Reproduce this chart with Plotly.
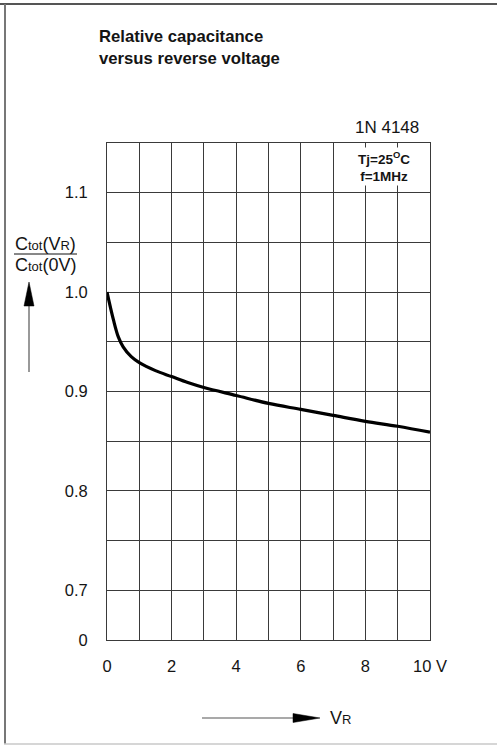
import plotly.graph_objects as go

# ---- data ----
vr = [0, 0.2, 0.35, 0.5, 0.75, 1.0, 1.5, 2, 2.5, 3, 4, 5, 6, 7, 8, 9, 10]
c_rel = [1.0, 0.972, 0.955, 0.945, 0.935, 0.929, 0.921, 0.915, 0.909, 0.904,
         0.896, 0.888, 0.882, 0.876, 0.870, 0.865, 0.859]

x_ticks = [0, 2, 4, 6, 8, 10]
x_labels = ["0", "2", "4", "6", "8", "10 V"]
y_ticks = [0.65, 0.70, 0.80, 0.90, 1.00, 1.10]
y_labels = ["0", "0.7", "0.8", "0.9", "1.0", "1.1"]

W, H = 497, 745
L, R, T, B = 107, 67, 143, 105
PW, PH = W - L - R, H - T - B

def px(x):
    return (x - L) / PW

def py(y):
    return (H - B - y) / PH

FONT = "Liberation Sans, Arial, sans-serif"
GRID = "#3a3a3a"
TXT = "#141414"

fig = go.Figure()
fig.add_trace(go.Scatter(x=vr, y=c_rel, mode="lines",
                         line=dict(color="black", width=3.2, shape="spline"),
                         hoverinfo="skip", showlegend=False))

fig.update_layout(
    width=W, height=H,
    margin=dict(l=L, r=R, t=T, b=B),
    paper_bgcolor="white", plot_bgcolor="white",
    font=dict(family=FONT, color=TXT, size=16),
    showlegend=False,
    xaxis=dict(range=[0, 10], tickmode="array", tickvals=x_ticks, ticktext=x_labels,
               showgrid=True, gridcolor=GRID, gridwidth=1, zeroline=False,
               minor=dict(tick0=0, dtick=1, showgrid=True, gridcolor=GRID, gridwidth=1, ticks=""),
               showline=True, linecolor=GRID, linewidth=1, mirror=True,
               ticks="", ticklabelstandoff=11, tickfont=dict(size=16.5, color=TXT)),
    yaxis=dict(range=[0.65, 1.15], tickmode="array", tickvals=y_ticks, ticktext=y_labels,
               showgrid=True, gridcolor=GRID, gridwidth=1, zeroline=False,
               minor=dict(tick0=0.65, dtick=0.05, showgrid=True, gridcolor=GRID, gridwidth=1, ticks=""),
               showline=True, linecolor=GRID, linewidth=1, mirror=True,
               ticks="", ticklabelstandoff=15, tickfont=dict(size=16.5, color=TXT)),
)

ann = []
ann.append(dict(x=px(97), y=py(36), xref="paper", yref="paper", xanchor="left", yanchor="middle",
                text="<b>Relative capacitance</b>", showarrow=False,
                font=dict(size=16.7, color=TXT, family=FONT)))
ann.append(dict(x=px(97), y=py(58), xref="paper", yref="paper", xanchor="left", yanchor="middle",
                text="<b>versus reverse voltage</b>", showarrow=False,
                font=dict(size=16.7, color=TXT, family=FONT)))
ann.append(dict(x=px(421), y=py(128), xref="paper", yref="paper", xanchor="right", yanchor="middle",
                text="1N 4148", showarrow=False, font=dict(size=17, color=TXT, family=FONT)))
ann.append(dict(x=px(384), y=py(166), xref="paper", yref="paper", xanchor="center", yanchor="middle",
                text="<b>Tj=25<sup>O</sup>C</b><br><b>f=1MHz</b>", showarrow=False,
                bgcolor="white", borderpad=1, align="center",
                font=dict(size=13.5, color=TXT, family=FONT)))
small = "<span style='font-size:13px'>"
ann.append(dict(x=px(45.5), y=py(244), xref="paper", yref="paper", xanchor="center", yanchor="middle",
                text="C" + small + "tot</span>(V" + small + "R</span>)", showarrow=False,
                font=dict(size=18, color=TXT, family=FONT)))
ann.append(dict(x=px(45.5), y=py(265), xref="paper", yref="paper", xanchor="center", yanchor="middle",
                text="C" + small + "tot</span>(0V)", showarrow=False,
                font=dict(size=18, color=TXT, family=FONT)))
ann.append(dict(x=px(328), y=py(718), xref="paper", yref="paper", xanchor="left", yanchor="middle",
                text="V" + small + "R</span>", showarrow=False,
                font=dict(size=18, color=TXT, family=FONT)))
fig.update_layout(annotations=ann)

shapes = []
# fraction bar
shapes.append(dict(type="line", xref="paper", yref="paper", x0=px(14), x1=px(77),
                   y0=py(254), y1=py(254), line=dict(color="#111", width=1)))
# vertical arrow
shapes.append(dict(type="line", xref="paper", yref="paper", x0=px(29), x1=px(29),
                   y0=py(372), y1=py(300), line=dict(color="#555", width=1.2)))
shapes.append(dict(type="path", xref="paper", yref="paper",
                   path=f"M {px(29)},{py(282)} L {px(24)},{py(306)} L {px(34)},{py(306)} Z",
                   fillcolor="black", line=dict(color="black", width=0.5)))
# horizontal arrow
shapes.append(dict(type="line", xref="paper", yref="paper", x0=px(202), x1=px(300),
                   y0=py(718), y1=py(718), line=dict(color="#555", width=1.2)))
shapes.append(dict(type="path", xref="paper", yref="paper",
                   path=f"M {px(320)},{py(718)} L {px(293)},{py(713.5)} L {px(293)},{py(722.5)} Z",
                   fillcolor="black", line=dict(color="black", width=0.5)))
# frame
shapes.append(dict(type="line", xref="paper", yref="paper", x0=px(0), x1=px(497),
                   y0=py(4), y1=py(4), line=dict(color="#555", width=2)))
shapes.append(dict(type="line", xref="paper", yref="paper", x0=px(5), x1=px(5),
                   y0=py(4), y1=py(744), line=dict(color="#777", width=2)))
shapes.append(dict(type="line", xref="paper", yref="paper", x0=px(4), x1=px(497),
                   y0=py(744), y1=py(744), line=dict(color="#c8c8c8", width=1.5)))
fig.update_layout(shapes=shapes)

fig.write_html("out.html")
